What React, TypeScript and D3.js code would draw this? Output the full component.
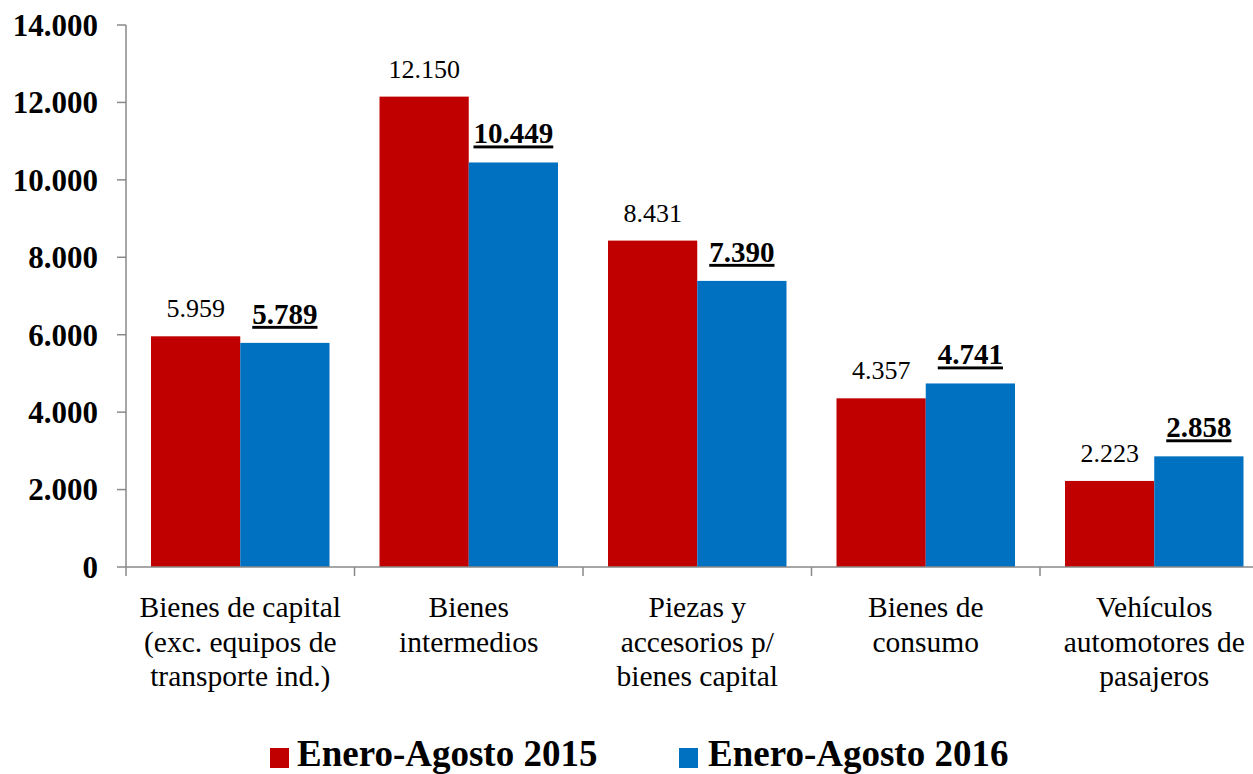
import React from "react";
import * as d3 from "d3";

const categories: string[][] = [
  ["Bienes de capital", "(exc. equipos de", "transporte ind.)"],
  ["Bienes", "intermedios"],
  ["Piezas y", "accesorios p/", "bienes capital"],
  ["Bienes de", "consumo"],
  ["Vehículos", "automotores de", "pasajeros"],
];
const values2015 = [5959, 12150, 8431, 4357, 2223];
const values2016 = [5789, 10449, 7390, 4741, 2858];
const seriesNames = ["Enero-Agosto 2015", "Enero-Agosto 2016"];
const yTicks = [0, 2000, 4000, 6000, 8000, 10000, 12000, 14000];

const W = 1253, H = 774;
const FONT = "Times New Roman, Liberation Serif, Tinos, serif";
const RED = "#C00000";
const BLUE = "#0070C0";
const AXIS = "#898989";

const fmt = (v: number) => d3.format(",")(v).replace(/,/g, ".");

export default function App() {
  const x0 = 126, x1 = 1268.5;
  const yScale = d3.scaleLinear().domain([0, 14000]).range([567, 25]);
  const xScale = d3.scaleBand<number>().domain(d3.range(5)).range([x0, x1]).paddingInner(0).paddingOuter(0);
  const bw = xScale.bandwidth();
  const pad = 25;
  const sub = d3.scaleBand<number>().domain([0, 1]).range([pad, bw - pad]);
  const series = [values2015, values2016];
  const colors = [RED, BLUE];

  return (
    <svg width={W} height={H} style={{ position: "absolute", left: 0, top: 0, background: "#fff" }}>
      <style>{`text { font-family: "Times New Roman", "Liberation Serif", Tinos, serif; }`}</style>
      {series.map((vals, s) =>
        vals.map((v, i) => (
          <rect key={`b${s}-${i}`} x={(xScale(i) as number) + (sub(s) as number)} y={yScale(v)}
            width={sub.bandwidth()} height={yScale(0) - yScale(v)} fill={colors[s]} />
        ))
      )}
      <line x1={x0} x2={x0} y1={yScale(14000)} y2={yScale(0)} stroke={AXIS} strokeWidth={1.5} />
      {yTicks.map((t) => (
        <g key={`yt${t}`}>
          <line x1={x0 - 9} x2={x0} y1={yScale(t)} y2={yScale(t)} stroke={AXIS} strokeWidth={1.5} />
          <text x={98} y={yScale(t)} dy="0.35em" textAnchor="end" fontWeight="bold" fontSize={31} fontFamily={FONT}>{fmt(t)}</text>
        </g>
      ))}
      <line x1={x0} x2={W} y1={yScale(0)} y2={yScale(0)} stroke={AXIS} strokeWidth={1.5} />
      {d3.range(5).map((i) => (
        <line key={`xt${i}`} x1={xScale(i) as number} x2={xScale(i) as number} y1={yScale(0)} y2={yScale(0) + 9} stroke={AXIS} strokeWidth={1.5} />
      ))}
      {categories.map((lines, i) => (
        <text key={`c${i}`} x={(xScale(i) as number) + bw / 2} y={617} textAnchor="middle" fontSize={29.5} fontFamily={FONT}>
          {lines.map((l, j) => (
            <tspan key={j} x={(xScale(i) as number) + bw / 2} dy={j === 0 ? 0 : 34.5}>{l}</tspan>
          ))}
        </text>
      ))}
      {values2015.map((v, i) => (
        <text key={`v0${i}`} x={(xScale(i) as number) + (sub(0) as number) + sub.bandwidth() / 2} y={yScale(v) - 19}
          textAnchor="middle" fontSize={26} fontFamily={FONT}>{fmt(v)}</text>
      ))}
      {values2016.map((v, i) => (
        <text key={`v1${i}`} x={(xScale(i) as number) + (sub(1) as number) + sub.bandwidth() / 2} y={yScale(v) - 19}
          textAnchor="middle" fontSize={29} fontWeight="bold" fontFamily={FONT} textDecoration="underline">{fmt(v)}</text>
      ))}
      {seriesNames.map((n, s) => {
        const lx = s === 0 ? 270 : 679;
        return (
          <g key={`l${s}`}>
            <rect x={lx} y={748} width={19} height={20} fill={colors[s]} />
            <text x={s === 0 ? 297 : 708} y={766} fontSize={37} fontWeight="bold" fontFamily={FONT}>{n}</text>
          </g>
        );
      })}
    </svg>
  );
}
